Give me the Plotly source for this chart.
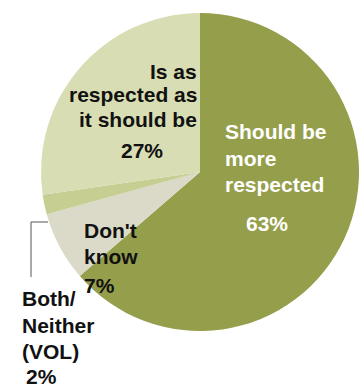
import plotly.graph_objects as go

# Survey shares, in clockwise order starting at 12 o'clock
categories = ["Should be more respected", "Don't know", "Both/Neither (VOL)", "Is as respected as it should be"]
values = [63, 7, 2, 27]
colors = ["#959E4A", "#DBD9C8", "#C6CE92", "#D8DDB3"]

# Label lines drawn for each slice
label_lines = {
    "Should be more respected": ["Should be", "more", "respected"],
    "Don't know": ["Don't", "know"],
    "Both/Neither (VOL)": ["Both/", "Neither", "(VOL)"],
    "Is as respected as it should be": ["Is as", "respected as", "it should be"],
}

W, H = 359, 387
FONT = "Liberation Sans, Arial, sans-serif"
FS = 21

fig = go.Figure(
    go.Pie(
        labels=categories,
        values=values,
        sort=False,
        direction="clockwise",
        rotation=0,
        marker=dict(colors=colors, line=dict(width=0)),
        textinfo="none",
        hoverinfo="label+value",
        domain=dict(x=[41 / W, 1.0], y=[(H - 331) / H, (H - 13) / H]),
        showlegend=False,
    )
)


def px(x):
    return x / W


def py(y):
    return 1 - y / H


def add_text(text, x, y, anchor, color="#111111"):
    fig.add_annotation(
        text=text, x=px(x), y=py(y), xref="paper", yref="paper",
        xanchor=anchor, yanchor="middle", showarrow=False,
        font=dict(family=FONT, size=FS, color=color, weight="bold"),
    )


pct = {c: f"{v}%" for c, v in zip(categories, values)}

# Should be more respected (white on the dark slice)
for line, y in zip(label_lines[categories[0]], [131, 158, 184]):
    add_text(line, 223, y, "left", "#ffffff")
add_text(pct[categories[0]], 267, 223, "center", "#ffffff")

# Don't know
for line, y in zip(label_lines[categories[1]], [230, 256]):
    add_text(line, 82, y, "left")
add_text(pct[categories[1]], 82, 285, "left")

# Both/Neither, placed outside with a leader line
for line, y in zip(label_lines[categories[2]], [298, 325, 351]):
    add_text(line, 20, y, "left")
add_text(pct[categories[2]], 41, 376, "center")

# Is as respected as it should be
for line, y in zip(label_lines[categories[3]], [71, 94, 119]):
    add_text(line, 199, y, "right")
add_text(pct[categories[3]], 142, 150, "center")

fig.add_shape(
    type="path",
    path=f"M {px(48)} {py(222)} L {px(31)} {py(222)} L {px(31)} {py(277)}",
    xref="paper", yref="paper",
    line=dict(color="#555555", width=1),
)

fig.update_layout(
    width=W, height=H,
    margin=dict(l=0, r=0, t=0, b=0),
    paper_bgcolor="#ffffff",
    plot_bgcolor="#ffffff",
)

fig.write_html("out.html")
